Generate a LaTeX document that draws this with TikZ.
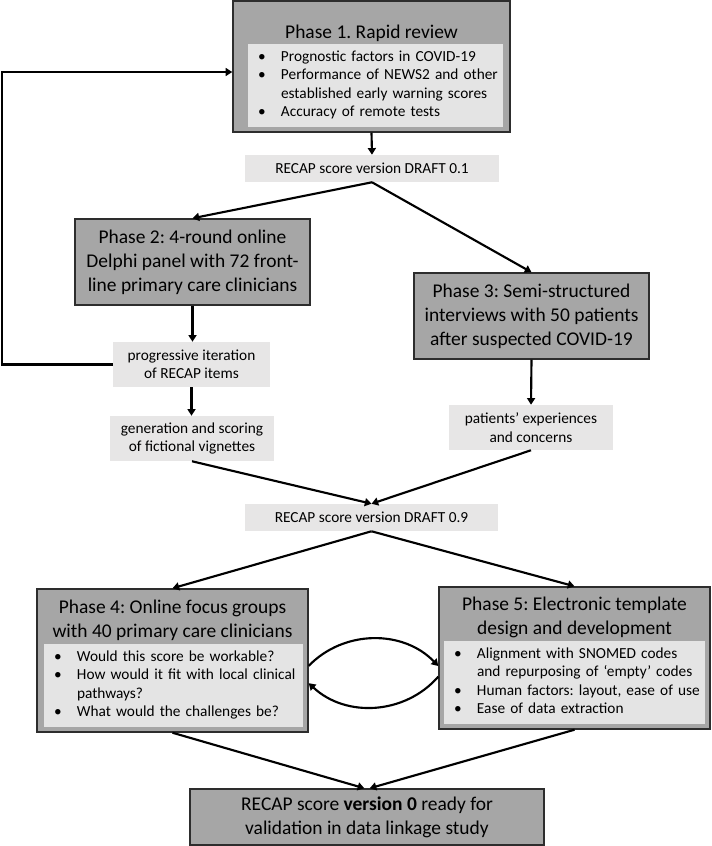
\documentclass[tikz,border=0pt]{standalone}
\usepackage{fontspec}
\setmainfont{Carlito}
\usetikzlibrary{arrows.meta}
\definecolor{boxgray}{RGB}{166,166,166}
\definecolor{listgray}{RGB}{228,228,228}
\definecolor{notegray}{RGB}{231,230,230}
\definecolor{edgegray}{RGB}{45,45,45}
\newcommand{\titlefont}{\fontsize{14.6}{18}\selectfont}
\newcommand{\bodyfont}{\fontsize{11.5}{13.8}\selectfont}
\newcommand{\bl}{\textbullet}
\frenchspacing

\begin{document}
\begin{tikzpicture}[x=0.75pt,y=-0.75pt,
	phasebox/.style={draw=edgegray, line width=1.1pt, fill=boxgray, font=\titlefont, align=center, inner sep=0pt},
	phasetitle/.style={font=\titlefont, align=center, inner sep=0pt},
	listbox/.style={fill=listgray, font=\bodyfont, align=left, inner xsep=7.5pt, inner ysep=0pt},
	notebox/.style={fill=notegray, font=\bodyfont, align=center, inner sep=0pt},
	arr/.style={-{Triangle[length=5pt,width=6pt]}, line width=1.6pt}]
	\useasboundingbox (0,0) rectangle (711,846);
	
	% Phase 1
	\node[phasebox, minimum width=207.75pt, minimum height=98.25pt] (p1) at (371.5,66.5) {};
	\node[phasetitle] (p1title) at (371.5,33) {Phase 1. Rapid review};
	\node[listbox, text width=176.25pt, minimum height=62.25pt] (p1list) at (375.5,85.5) {%
		\begin{tabular}{@{}p{17.25pt}@{}l@{}}
			\bl & Prognostic factors in COVID-19\\
			\bl & Performance of NEWS2 and other\\
			    & established early warning scores\\
			\bl & Accuracy of remote tests
		\end{tabular}};
	\node[notebox, minimum width=190.5pt, minimum height=20.25pt] (d01) at (372,168.5) {RECAP score version DRAFT 0.1};
	
	% Phase 2 and 3
	\node[phasebox, minimum width=176.25pt, minimum height=64.5pt] (p2) at (192.5,262) {Phase 2: 4-round online\\Delphi panel with 72 front-\\line primary care clinicians};
	\node[phasebox, minimum width=176.25pt, minimum height=64.5pt] (p3) at (531.5,316) {Phase 3: Semi-structured\\interviews with 50 patients\\after suspected COVID-19};
	\node[notebox, minimum width=117.75pt, minimum height=33.75pt] (prog) at (191.5,364.5) {progressive iteration\\of RECAP items};
	\node[notebox, minimum width=123pt, minimum height=33.75pt] (gen) at (192,438.5) {generation and scoring\\of fictional vignettes};
	\node[notebox, minimum width=123pt, minimum height=33.75pt] (pat) at (531,427.5) {patients’ experiences\\and concerns};
	\node[notebox, minimum width=189.75pt, minimum height=20.25pt] (d09) at (371.5,517.5) {RECAP score version DRAFT 0.9};
	
	% Phase 4
	\node[phasebox, minimum width=203.25pt, minimum height=107.25pt] (p4) at (172.5,660.5) {};
	\node[phasetitle] (p4title) at (172.5,620) {Phase 4: Online focus groups\\with 40 primary care clinicians};
	\node[listbox, text width=179.25pt, minimum height=62.25pt] (p4list) at (173.5,685.5) {%
		\begin{tabular}{@{}p{17.25pt}@{}l@{}}
			\bl & Would this score be workable?\\
			\bl & How would it fit with local clinical\\
			    & pathways?\\
			\bl & What would the challenges be?
		\end{tabular}};
	
	% Phase 5
	\node[phasebox, minimum width=203.25pt, minimum height=106.5pt] (p5) at (574.5,658) {};
	\node[phasetitle] (p5title) at (574.5,617.5) {Phase 5: Electronic template\\design and development};
	\node[listbox, text width=180.75pt, minimum height=62.25pt] (p5list) at (574.5,682.5) {%
		\begin{tabular}{@{}p{17.25pt}@{}l@{}}
			\bl & Alignment with SNOMED codes\\
			    & and repurposing of ‘empty’ codes\\
			\bl & Human factors: layout, ease of use\\
			\bl & Ease of data extraction
		\end{tabular}};
	
	\node[phasebox, minimum width=265.5pt, minimum height=42pt] (fin) at (367,817) {RECAP score \textbf{version 0} ready for\\validation in data linkage study};
	
	% Flechas
	\coordinate (fb) at (2,72);
	\draw[arr] (p1.south) -- (d01.north);
	\draw[arr] (d01.south) -- (p2.north);
	\draw[arr] (d01.south) -- (p3.north);
	\draw[arr] (p2.south) -- (p2.south |- prog.north);
	\draw[arr] (prog.south) -- (prog.south |- gen.north);
	\draw[arr] (prog.west) -| (fb) -- (fb -| p1.west);
	\draw[arr] (p3.south) -- (pat.north);
	\draw[arr] (gen.south) -- (d09.north);
	\draw[arr] (pat.south) -- (d09.north);
	\draw[arr] (d09.south) -- (p4.north);
	\draw[arr] (d09.south) -- (p5.north);
	\draw[arr] ([yshift=-4pt]p4.east) to[bend left=46] ([yshift=-6pt]p5.west);
	\draw[arr] ([yshift=-14pt]p5.west) to[bend left=46] ([yshift=-17pt]p4.east);
	\draw[arr] (p4.south) -- ([xshift=-2pt]fin.north);
	\draw[arr] (p5.south) -- ([xshift=2pt]fin.north);
\end{tikzpicture}
\end{document}
